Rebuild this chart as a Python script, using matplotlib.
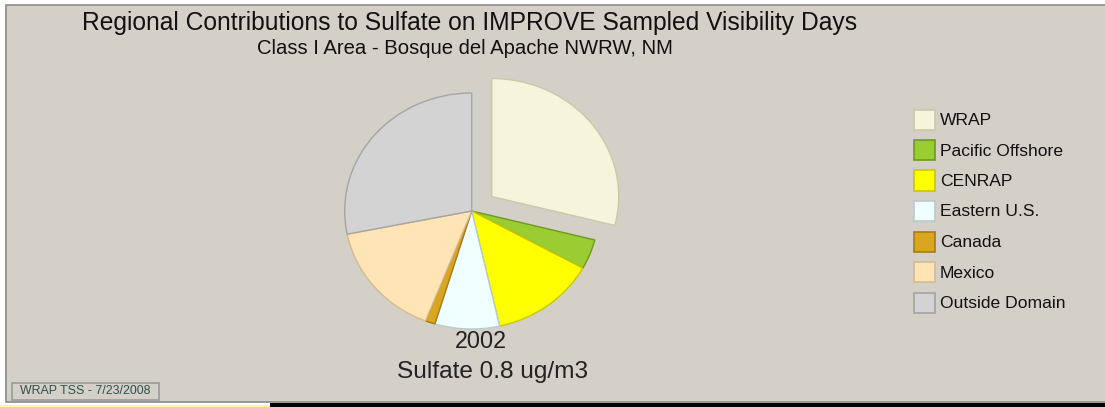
import matplotlib
matplotlib.use("Agg")
import matplotlib.pyplot as plt
from matplotlib.patches import Rectangle

# ---- data ----
regions = ['WRAP', 'Pacific Offshore', 'CENRAP', 'Eastern U.S.', 'Canada', 'Mexico', 'Outside Domain']
shares = [28.9, 4.1, 13.4, 8.2, 1.25, 15.9, 28.1]
face_colors = ['#f5f5dc', '#9acd32', '#ffff00', '#f0ffff', '#daa520', '#ffe4b5', '#d3d3d3']
edge_colors = ['#c9c9a8', '#6f9a1c', '#c8c800', '#b8cccc', '#a87c10', '#d6bb8c', '#a4a4a4']
explode = [0.2, 0, 0, 0, 0, 0, 0]
title = 'Regional Contributions to Sulfate on IMPROVE Sampled Visibility Days'
subtitle = 'Class I Area - Bosque del Apache NWRW, NM'
year_label = '2002'
total_label = 'Sulfate 0.8 ug/m3'
footer = 'WRAP TSS - 7/23/2008'

W, H = 1105, 407
BG = '#d4d0c8'
FONT = ['Liberation Sans', 'DejaVu Sans']

fig = plt.figure(figsize=(W / 100, H / 100), dpi=100)
fig.patch.set_facecolor('white')


def fx(x):
    return x / W


def fy(y):
    return 1 - y / H


def prect(x0, y0, x1, y1, z=-5, **kw):
    r = Rectangle((fx(x0), fy(y1)), fx(x1) - fx(x0), fy(y0) - fy(y1),
                  transform=fig.transFigure, zorder=z, **kw)
    fig.patches.append(r)
    return r


# panel and bottom strips
prect(6, 5, W + 2, 402, facecolor=BG, edgecolor='#8a8a8a', linewidth=1.2)
prect(270, 403, W, H, facecolor='black', edgecolor='none')
prect(0, 405, 270, H, facecolor='#ffff88', edgecolor='none')

# ---- pie ----
cx, cy, rx, ry = 471.7, 211.0, 127.0, 118.0
k = 1.3
ax = fig.add_axes([fx(cx - k * rx), fy(cy + k * ry), 2 * k * rx / W, 2 * k * ry / H])
ax.set_zorder(2)
ax.patch.set_visible(False)
wedges, _ = ax.pie(shares, colors=face_colors, explode=explode, startangle=90,
                   counterclock=False, radius=1.0,
                   wedgeprops=dict(linewidth=1.0))
for w, ec in zip(wedges, edge_colors):
    w.set_edgecolor(ec)
ax.set_aspect('auto')
ax.set_xlim(-k, k)
ax.set_ylim(-k, k)
ax.axis('off')

# ---- texts ----
texts = []


def ftext(x, y, s, size, target_w=None, **kw):
    t = fig.text(fx(x), fy(y), s, fontsize=size, family=FONT, transform=fig.transFigure,
                 zorder=5, **kw)
    if target_w:
        texts.append((t, target_w))
    return t


ftext(470, 23, title, 16, 780, ha='center', va='center', color='#111111')
ftext(465, 48, subtitle, 11, 414, ha='center', va='center', color='#111111')
ftext(481, 341, year_label, 16, 52, ha='center', va='center', color='#222222')
ftext(492.5, 372, total_label, 16, 192, ha='center', va='center', color='#222222')

# legend
row0, step = 119.5, 30.5
for i, (lab, fc, ec) in enumerate(zip(regions, face_colors, edge_colors)):
    yc = row0 + i * step
    prect(914, yc - 10, 935, yc + 10, z=3, facecolor=fc, edgecolor=ec, linewidth=1.2)
    ftext(940, yc + 1, lab, 12.6, None, ha='left', va='center', color='#111111')

# footer
prect(12, 383, 159, 400, z=3, facecolor=BG, edgecolor='#9a9a9a', linewidth=1.2)
ftext(20, 391.5, footer, 7, 130, ha='left', va='center', color='#2f4f4f')

fig.canvas.draw()
r = fig.canvas.get_renderer()
for t, tw in texts:
    bb = t.get_window_extent(r)
    t.set_fontsize(t.get_fontsize() * tw / bb.width)

fig.savefig('out.png', dpi=100, facecolor=fig.get_facecolor())
